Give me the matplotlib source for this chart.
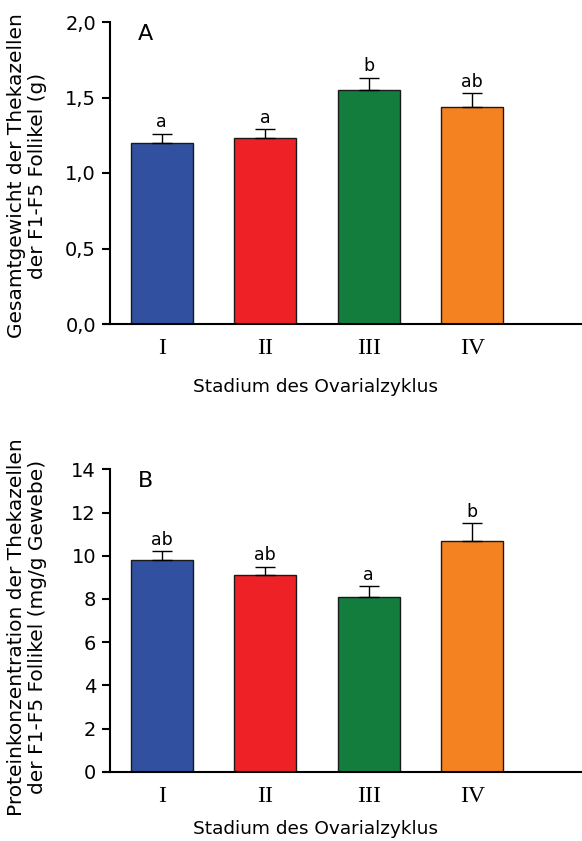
import matplotlib
matplotlib.use("Agg")
import matplotlib.pyplot as plt

stages = ["I", "II", "III", "IV"]
colors = ["#3150A0", "#EE2226", "#137D3E", "#F58220"]

a_values = [1.20, 1.23, 1.55, 1.44]
a_errors = [0.06, 0.06, 0.08, 0.09]
a_letters = ["a", "a", "b", "ab"]
a_ticks = [0.0, 0.5, 1.0, 1.5, 2.0]
a_ticklabels = ["0,0", "0,5", "1,0", "1,5", "2,0"]

b_values = [9.8, 9.1, 8.1, 10.7]
b_errors = [0.4, 0.4, 0.5, 0.8]
b_letters = ["ab", "ab", "a", "b"]
b_ticks = [0, 2, 4, 6, 8, 10, 12, 14]
b_ticklabels = ["0", "2", "4", "6", "8", "10", "12", "14"]

W, H = 582, 841
fig = plt.figure(figsize=(W / 100, H / 100), dpi=100)

def px_axes(left, top, right, bottom):
    return fig.add_axes([left / W, 1 - bottom / H, (right - left) / W, (bottom - top) / H])

def panel(ax, values, errors, letters, ticks, ticklabels, ymax, label, ylab, ylab_y, xpad):
    x = list(range(len(values)))
    ax.bar(x, values, width=0.6, color=colors, edgecolor="#1a1a1a", linewidth=1.0, zorder=2)
    ax.errorbar(x, values, yerr=[[0] * len(errors), errors], fmt="none", ecolor="black",
                elinewidth=1.0, capsize=7, capthick=1.0, zorder=3)
    off = ymax * 0.008
    for xi, v, e, t in zip(x, values, errors, letters):
        ax.text(xi, v + e + off, t, ha="center", va="bottom", fontsize=12.5)
    ax.set_xlim(-0.5, 4.06)
    ax.set_ylim(0, ymax)
    ax.set_yticks(ticks)
    ax.set_yticklabels(ticklabels, fontsize=14)
    ax.set_xticks(x)
    ax.set_xticklabels(stages, fontsize=17, family="Liberation Serif")
    ax.tick_params(axis="x", length=0, pad=10)
    ax.tick_params(axis="y", length=6, width=1.5, direction="out", pad=4)
    for s in ["top", "right"]:
        ax.spines[s].set_visible(False)
    ax.spines["left"].set_linewidth(1.5)
    ax.spines["bottom"].set_linewidth(1.5)
    ax.spines["bottom"].set_bounds(-0.5 - 6 / 103.5, 4.06)
    ax.spines["bottom"].set_clip_on(False)
    ax.set_xlabel("Stadium des Ovarialzyklus", fontsize=13.3, labelpad=xpad)
    ax.xaxis.label.set_x(0.436)
    ax.text(0.06, 0.995, label, transform=ax.transAxes, fontsize=16, ha="left", va="top")
    fig.text(27 / W, 1 - ylab_y / H, ylab, rotation=90, ha="center", va="center",
             fontsize=14.5, multialignment="center", linespacing=1.1)

axA = px_axes(110, 22, 582, 324)
panel(axA, a_values, a_errors, a_letters, a_ticks, a_ticklabels, 2.0, "A",
      "Gesamtgewicht der Thekazellen\nder F1-F5 Follikel (g)", 176, 14)

axB = px_axes(110, 469.3, 582, 771.7)
panel(axB, b_values, b_errors, b_letters, b_ticks, b_ticklabels, 14, "B",
      "Proteinkonzentration der Thekazellen\nder F1-F5 Follikel (mg/g Gewebe)", 627, 10)

fig.savefig("out.png", dpi=100)
